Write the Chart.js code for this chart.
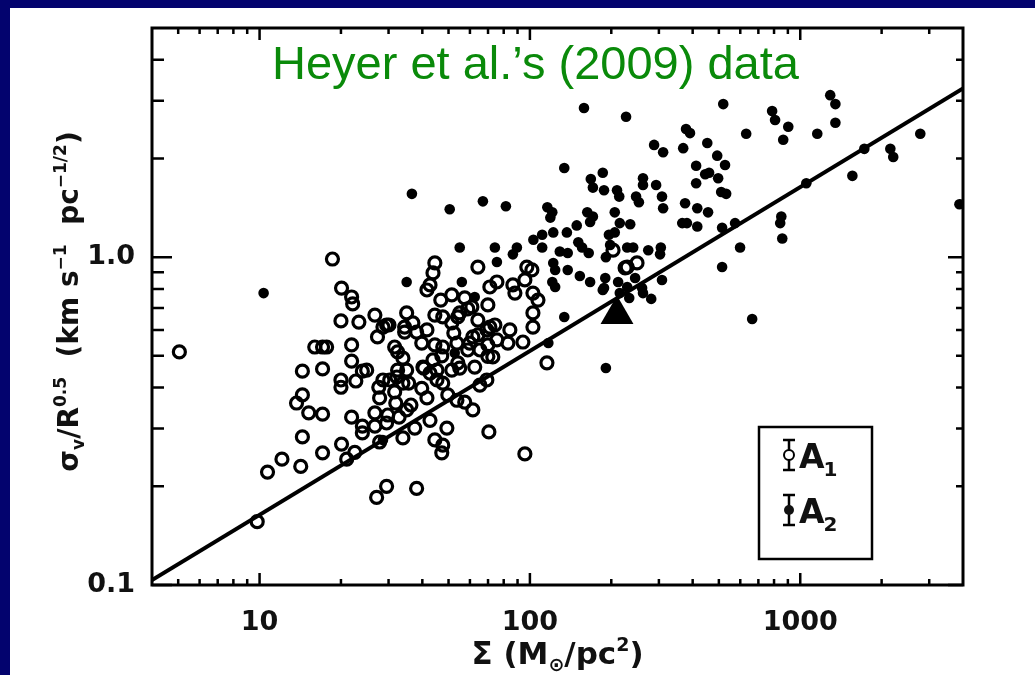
<!DOCTYPE html>
<html>
<head>
<meta charset="utf-8">
<script src="https://cdn.jsdelivr.net/npm/chart.js@4.4.1/dist/chart.umd.min.js"></script>
<style>
  html, body { margin: 0; padding: 0; background: #03036e; }
  canvas { display: block; }
</style>
</head>
<body>
<canvas id="heyerChart" width="1035" height="675"></canvas>
<script>
// axis ticks
var xTickVals = [10, 100, 1000];
var xTickText = ['10', '100', '1000'];
var xMinorVals = [5, 6, 7, 8, 9, 20, 30, 40, 50, 60, 70, 80, 90, 200, 300, 400, 500, 600, 700, 800, 900, 2000, 3000];
var yTickVals = [0.1, 1];
var yTickText = ['0.1', '1.0'];
var yMinorVals = [0.2, 0.3, 0.4, 0.5, 0.6, 0.7, 0.8, 0.9, 2, 3, 4];

// fitted relation (solid line)
var fitSurf = [4, 4000];
var fitSig = [0.1035, 3.27];

// A1 clouds (open circles)
var openSurf = [5.05, 18.6, 20.1, 21.9, 22.1, 20.0, 23.3, 26.7, 21.9, 21.9, 24.0, 24.9, 16.0, 17.1, 17.7, 14.4, 17.1, 20.0, 20.0, 22.7,
  14.4, 13.7, 15.2, 17.1, 14.4, 17.1, 20.1, 22.5, 21.0, 14.2, 12.1, 10.7, 9.8, 21.9, 24.0, 24.0, 26.7, 26.7, 27.8, 29.8,
  31.9, 35.0, 33.9, 37.5, 41.6, 42.7, 44.5, 49.3, 47.6, 47.2, 70.5, 29.5, 38.1, 27.1, 28.6, 30.1, 27.3, 34.4, 35.0, 34.4,
  38.1, 41.6, 39.8, 31.6, 32.4, 33.9, 35.0, 32.4, 32.2, 30.3, 28.6, 27.6, 27.8, 31.6, 33.9, 35.6, 40.5, 43.8, 45.3, 45.3,
  44.5, 47.6, 44.5, 47.6, 46.8, 51.4, 51.4, 52.3, 57.4, 58.9, 64.2, 61.5, 69.9, 65.3, 72.9, 62.5, 55.0, 51.4, 54.1, 47.6,
  49.7, 57.4, 61.5, 65.3, 69.3, 64.2, 44.5, 43.8, 42.7, 41.6, 64.2, 71.1, 69.9, 58.9, 97.4, 101.7, 75.5, 86.5, 95.8, 88.0,
  102.6, 107.1, 102.6, 102.6, 94.2, 82.9, 75.5, 61.0, 69.3, 55.0, 36.9, 53.7, 59.9, 74.2, 84.3, 229, 249, 203, 225, 115.6,
  95.8, 39.8, 53.7, 32.8, 29.5, 40.2, 42.7, 36.3, 29.5, 69.9, 47.2, 54.1, 71.1];
var openSig = [0.514, 0.987, 0.805, 0.756, 0.720, 0.639, 0.634, 0.666, 0.540, 0.482, 0.449, 0.452, 0.532, 0.532, 0.532, 0.449, 0.456, 0.422, 0.401, 0.419,
  0.380, 0.359, 0.335, 0.332, 0.283, 0.253, 0.269, 0.254, 0.242, 0.230, 0.242, 0.221, 0.156, 0.325, 0.305, 0.291, 0.305, 0.335, 0.273, 0.330,
  0.359, 0.342, 0.281, 0.301, 0.372, 0.318, 0.277, 0.301, 0.267, 0.253, 0.293, 0.200, 0.197, 0.185, 0.612, 0.621, 0.571, 0.612, 0.676, 0.591,
  0.591, 0.600, 0.547, 0.532, 0.514, 0.492, 0.452, 0.452, 0.431, 0.422, 0.422, 0.401, 0.372, 0.388, 0.413, 0.413, 0.459, 0.486, 0.452, 0.422,
  0.540, 0.532, 0.666, 0.657, 0.740, 0.767, 0.630, 0.587, 0.751, 0.695, 0.643, 0.571, 0.540, 0.521, 0.496, 0.462, 0.459, 0.452, 0.476, 0.413,
  0.380, 0.361, 0.342, 0.407, 0.422, 0.579, 0.960, 0.895, 0.823, 0.794, 0.933, 0.811, 0.715, 0.521, 0.933, 0.914, 0.840, 0.823, 0.852, 0.777,
  0.777, 0.740, 0.676, 0.612, 0.551, 0.547, 0.559, 0.705, 0.600, 0.676, 0.630, 0.547, 0.547, 0.621, 0.600, 0.933, 0.960, 1.05, 0.927, 0.476,
  0.251, 0.398, 0.366, 0.325, 0.621, 0.462, 0.443, 0.354, 0.312, 0.498, 0.500, 0.657, 0.612];

// A2 clouds (filled circles)
var filledSurf = [10.35, 36.6, 50.5, 67.0, 158.5, 226.8, 519, 787, 807, 903, 631, 865, 1156, 1291, 1349, 1349, 2780, 1726, 2154, 2208,
  1559, 1053, 3880, 851, 843, 858, 514, 574, 599, 514, 664, 453, 378, 391, 288, 311, 369, 493, 527, 412,
  445, 460, 497, 412, 510, 532, 186, 188, 210, 214, 247, 253, 262, 262, 293, 308, 311, 375, 416, 456,
  134, 168, 171, 206, 215, 235, 366, 381, 416, 196, 206, 198, 191, 229, 241, 274, 305, 303, 190, 212,
  245, 308, 188, 229, 260, 262, 233, 281, 215, 116, 121, 119, 111, 122, 149, 167, 171, 137, 163, 55.0,
  74.2, 89.5, 86.5, 103, 111, 129, 138, 151, 156, 165, 75.5, 122, 124, 138, 153, 167, 186, 35.0, 56.0, 121,
  124, 134, 191, 117, 62.5, 81.5, 52.7, 28.6];
var filledSig = [0.777, 1.56, 1.40, 1.48, 2.85, 2.68, 2.93, 2.79, 2.62, 2.50, 2.38, 2.28, 2.38, 3.12, 2.93, 2.57, 2.38, 2.14, 2.14, 2.02,
  1.77, 1.68, 1.45, 1.33, 1.27, 1.14, 1.23, 1.27, 1.07, 0.933, 0.648, 2.23, 2.46, 2.39, 2.20, 2.09, 2.15, 2.04, 1.91, 1.90,
  1.79, 1.81, 1.74, 1.68, 1.58, 1.56, 1.81, 1.60, 1.60, 1.53, 1.53, 1.47, 1.74, 1.66, 1.66, 1.53, 1.41, 1.46, 1.41, 1.37,
  1.87, 1.73, 1.63, 1.37, 1.27, 1.26, 1.27, 1.27, 1.24, 1.17, 1.19, 1.09, 1.00, 1.07, 1.07, 1.05, 1.07, 1.02, 0.864, 0.840,
  0.864, 0.852, 0.805, 0.811, 0.805, 0.777, 0.751, 0.746, 0.777, 1.42, 1.37, 1.32, 1.17, 1.19, 1.25, 1.28, 1.33, 1.19, 1.37, 1.07,
  1.07, 1.07, 1.02, 1.13, 1.07, 1.04, 1.03, 1.11, 1.07, 1.03, 0.967, 0.960, 0.914, 0.914, 0.876, 0.840, 0.794, 0.840, 0.840, 0.840,
  0.811, 0.657, 0.459, 0.547, 0.756, 1.43, 0.510, 0.277];

// triangle marker
var triSurf = [210];
var triSig = [0.668];

function pairs(xs, ys) {
    return xs.map(function(x, i) { return { x: x, y: ys[i] }; });
}

// draws text runs with sub/superscripts, centred on x
function drawRuns(ctx, runs, cx, baseline, big, small) {
    var total = 0;
    runs.forEach(function(r) {
        ctx.font = 'bold ' + (r.s ? small : big) + 'px "DejaVu Sans"';
        r.w = ctx.measureText(r.t).width;
        total += r.w;
    });
    var x = cx - total / 2;
    ctx.textAlign = 'left';
    ctx.textBaseline = 'alphabetic';
    runs.forEach(function(r) {
        ctx.font = 'bold ' + (r.s ? small : big) + 'px "DejaVu Sans"';
        var dy = r.s === 'sup' ? -big * 0.42 : (r.s === 'sub' ? big * 0.22 : 0);
        ctx.fillText(r.t, x, baseline + dy);
        x += r.w;
    });
}

var decorPlugin = {
    id: 'decor',
    beforeDraw: function(chart) {
        var ctx = chart.ctx;
        ctx.save();
        ctx.fillStyle = '#03036e';
        ctx.fillRect(0, 0, chart.width, chart.height);
        ctx.fillStyle = '#ffffff';
        ctx.fillRect(10, 8, chart.width - 10, chart.height - 8);
        ctx.restore();
    },
    afterDraw: function(chart) {
        var ctx = chart.ctx, a = chart.chartArea;
        var xs = chart.scales.x, ys = chart.scales.y;
        ctx.save();
        ctx.strokeStyle = '#000';
        ctx.fillStyle = '#111';

        // inward ticks on all four sides
        ctx.lineWidth = 2.5;
        ctx.beginPath();
        function xTick(v, len) {
            var p = xs.getPixelForValue(v);
            ctx.moveTo(p, a.bottom); ctx.lineTo(p, a.bottom - len);
            ctx.moveTo(p, a.top); ctx.lineTo(p, a.top + len);
        }
        function yTick(v, lenL, lenR) {
            var p = ys.getPixelForValue(v);
            ctx.moveTo(a.left, p); ctx.lineTo(a.left + lenL, p);
            ctx.moveTo(a.right, p); ctx.lineTo(a.right - lenR, p);
        }
        xTickVals.forEach(function(v) { xTick(v, 12); });
        xMinorVals.forEach(function(v) { xTick(v, 6); });
        yTickVals.forEach(function(v) { yTick(v, 20, 15); });
        yMinorVals.forEach(function(v) { yTick(v, 12, 7); });
        ctx.stroke();

        ctx.lineWidth = 3;
        ctx.strokeRect(a.left, a.top, a.right - a.left, a.bottom - a.top);

        // title inside the frame
        ctx.fillStyle = '#0a8a0a';
        ctx.font = '47px "Liberation Sans"';
        ctx.textAlign = 'left';
        ctx.textBaseline = 'alphabetic';
        ctx.fillText('Heyer et al.\u2019s (2009) data', a.left + 120, a.top + 51);

        // legend box
        ctx.fillStyle = '#111';
        var bx = a.right - 204, by = a.bottom - 158;
        ctx.lineWidth = 2.5;
        ctx.strokeRect(bx, by, 113, 132);
        var sx = bx + 30;
        [[by + 28, false, '1'], [by + 83, true, '2']].forEach(function(it) {
            var cy = it[0];
            ctx.lineWidth = 2.5;
            ctx.beginPath();
            ctx.moveTo(sx, cy - 15); ctx.lineTo(sx, cy + 15);
            ctx.moveTo(sx - 6, cy - 15); ctx.lineTo(sx + 6, cy - 15);
            ctx.moveTo(sx - 6, cy + 15); ctx.lineTo(sx + 6, cy + 15);
            ctx.stroke();
            ctx.beginPath();
            ctx.arc(sx, cy, 5, 0, Math.PI * 2);
            if (it[1]) { ctx.fill(); } else { ctx.fillStyle = '#fff'; ctx.fill(); ctx.fillStyle = '#111'; ctx.lineWidth = 2; ctx.stroke(); }
            ctx.textAlign = 'left';
            ctx.font = 'bold 33px "DejaVu Sans"';
            ctx.fillText('A', sx + 10, cy + 13);
            var w = ctx.measureText('A').width;
            ctx.font = 'bold 20px "DejaVu Sans"';
            ctx.fillText(it[2], sx + 9 + w, cy + 21);
        });

        // x axis title
        drawRuns(ctx, [
            { t: '\u03A3 (M' }, { t: '\u2299', s: 'sub' }, { t: '/pc' }, { t: '2', s: 'sup' }, { t: ')' }
        ], (a.left + a.right) / 2, 664, 31, 19);

        // y axis title (rotated)
        ctx.translate(78, (a.top + a.bottom) / 2 - 5);
        ctx.rotate(-Math.PI / 2);
        drawRuns(ctx, [
            { t: '\u03C3' }, { t: 'v', s: 'sub' }, { t: '/R' }, { t: '0.5', s: 'sup' },
            { t: '  (km s' }, { t: '\u22121', s: 'sup' }, { t: '  pc' }, { t: '\u22121/2', s: 'sup' }, { t: ')' }
        ], 0, 0, 28, 17);
        ctx.restore();
    }
};

var ctx = document.getElementById('heyerChart').getContext('2d');
var heyerChart = new Chart(ctx, {
    type: 'scatter',
    data: {
        datasets: [{
            label: 'fit',
            data: pairs(fitSurf, fitSig),
            showLine: true,
            borderColor: '#000',
            borderWidth: 4,
            pointRadius: 0
        }, {
            label: 'A1',
            data: pairs(openSurf, openSig),
            pointStyle: 'circle',
            pointRadius: 6,
            borderWidth: 3.2,
            borderColor: '#000',
            backgroundColor: 'rgba(255,255,255,0)'
        }, {
            label: 'A2',
            data: pairs(filledSurf, filledSig),
            pointStyle: 'circle',
            pointRadius: 5.3,
            borderWidth: 0,
            backgroundColor: '#000'
        }, {
            label: 'triangle',
            data: pairs(triSurf, triSig),
            pointStyle: 'triangle',
            pointRadius: 19,
            borderWidth: 0,
            backgroundColor: '#000'
        }]
    },
    options: {
        responsive: false,
        animation: false,
        devicePixelRatio: 1,
        layout: { padding: { left: 10, right: 72, top: 28, bottom: 0 } },
        plugins: {
            legend: { display: false },
            tooltip: { enabled: false }
        },
        scales: {
            x: {
                type: 'logarithmic',
                min: 4,
                max: 4000,
                grid: { display: false },
                border: { display: false },
                afterBuildTicks: function(s) { s.ticks = xTickVals.map(function(v) { return { value: v }; }); },
                afterFit: function(s) { s.height = 90; },
                ticks: {
                    padding: 14,
                    maxRotation: 0,
                    color: '#111',
                    font: { family: 'DejaVu Sans', size: 27, weight: 'bold' },
                    callback: function(v, i) { return xTickText[i]; }
                }
            },
            y: {
                type: 'logarithmic',
                min: 0.1,
                max: 5,
                grid: { display: false },
                border: { display: false },
                afterBuildTicks: function(s) { s.ticks = yTickVals.map(function(v) { return { value: v }; }); },
                afterFit: function(s) { s.width = 142; },
                ticks: {
                    padding: 9,
                    color: '#111',
                    font: { family: 'DejaVu Sans', size: 27, weight: 'bold' },
                    callback: function(v, i) { return yTickText[i]; }
                }
            }
        }
    },
    plugins: [decorPlugin]
});
</script>
</body>
</html>
